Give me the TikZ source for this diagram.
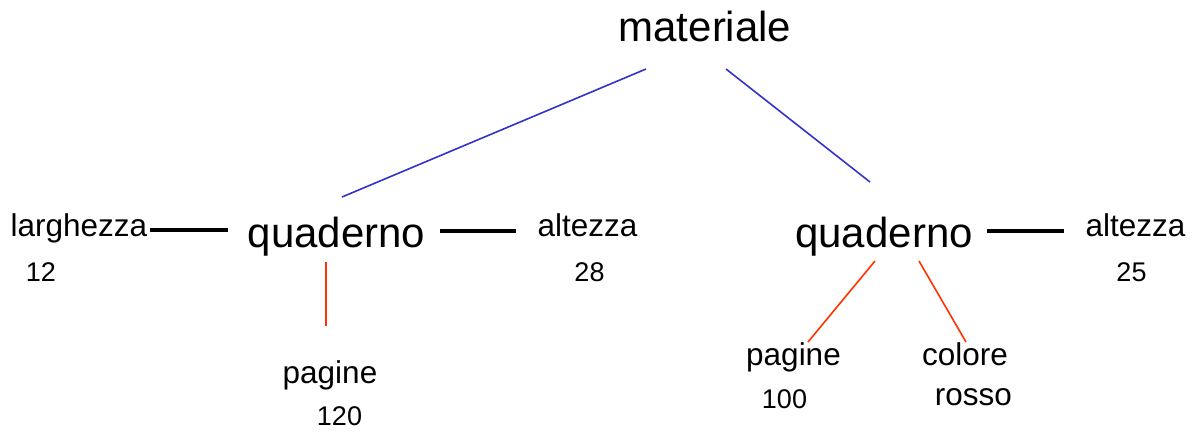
\documentclass[tikz,border=0pt]{standalone}
\usepackage{fontspec}
\setmainfont{Liberation Sans}
\definecolor{linkblue}{HTML}{3333CC}
\definecolor{linkred}{HTML}{FF3300}
\begin{document}
\begin{tikzpicture}[x=1pt,y=-1pt,
  big/.style={anchor=base,inner sep=0pt,font=\fontsize{42}{50}\selectfont},
  small/.style={anchor=base,inner sep=0pt,font=\fontsize{31.5}{38}\selectfont},
  value/.style={anchor=base,inner sep=0pt,font=\fontsize{27}{32}\selectfont},
  bluelink/.style={draw=linkblue,line width=1.6pt},
  redlink/.style={draw=linkred,line width=1.6pt},
  attrlink/.style={draw=black,line width=3.2pt}]
\useasboundingbox (0,0) rectangle (1192,432);

% root
\node[big] (mat) at (705,41) {materiale};

% first notebook and its attributes
\node[big] (q1) at (336.5,247) {quaderno};
\node[small] (larg) at (79,236) {larghezza};
\node[value] (larg-v) at (41,281) {12};
\node[small] (alt1) at (587.5,236) {altezza};
\node[value] (alt1-v) at (589.5,281) {28};
\node[small] (pag1) at (330,383) {pagine};
\node[value] (pag1-v) at (339.5,425) {120};

% second notebook and its attributes
\node[big] (q2) at (884,247) {quaderno};
\node[small] (alt2) at (1135.5,236) {altezza};
\node[value] (alt2-v) at (1131.5,281) {25};
\node[small] (pag2) at (793.5,365) {pagine};
\node[value] (pag2-v) at (784.5,408) {100};
\node[small] (col) at (965,365) {colore};
\node[small] (col-v) at (973.5,405) {rosso};

% connector end points
\coordinate (mat-l) at (646,69);
\coordinate (mat-r) at (726,69);
\coordinate (q1-top) at (342,197);
\coordinate (q2-top) at (870,182);
\coordinate (larg-e) at (150,230);
\coordinate (q1-w) at (228,230);
\coordinate (q1-e) at (440,231);
\coordinate (alt1-w) at (516,231);
\coordinate (q2-e) at (987,231);
\coordinate (alt2-w) at (1064,231);
\coordinate (q1-bot) at (326,262);
\coordinate (pag1-top) at (326,326);
\coordinate (q2-bl) at (875,261);
\coordinate (pag2-top) at (808,342);
\coordinate (q2-br) at (919,261);
\coordinate (col-top) at (966,342);

% links
\draw[bluelink] (mat-l) -- (q1-top);
\draw[bluelink] (mat-r) -- (q2-top);
\draw[attrlink] (larg-e) -- (q1-w);
\draw[attrlink] (q1-e) -- (alt1-w);
\draw[attrlink] (q2-e) -- (alt2-w);
\draw[redlink] (q1-bot) -- (pag1-top);
\draw[redlink] (q2-bl) -- (pag2-top);
\draw[redlink] (q2-br) -- (col-top);
\end{tikzpicture}
\end{document}
